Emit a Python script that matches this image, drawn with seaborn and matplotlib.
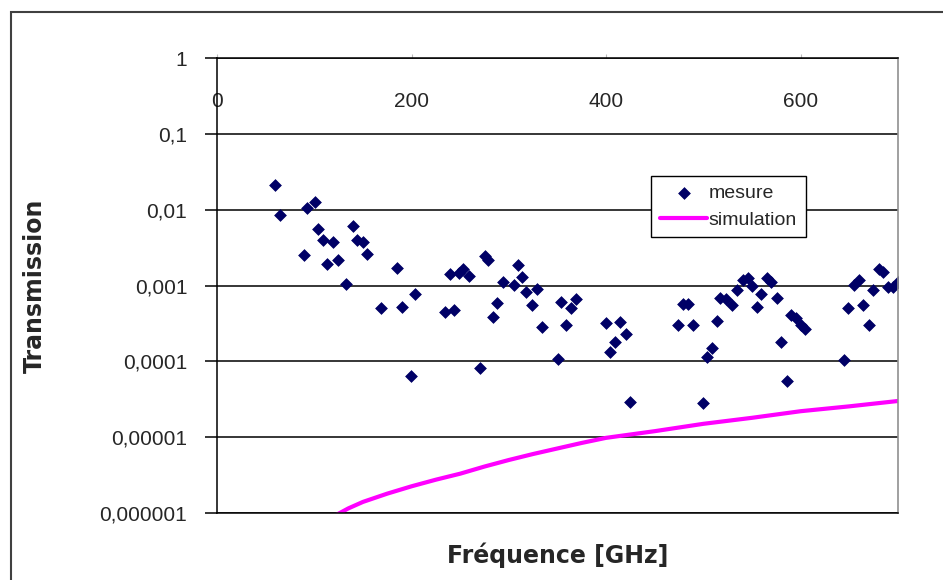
import pandas as pd
import seaborn as sns
import matplotlib.pyplot as plt
from matplotlib.patches import Rectangle

# measured points (frequency in GHz, transmission)
mesure_freq = [60, 65, 89, 93, 101, 104, 109, 119, 113, 124, 133, 140, 144, 150, 154,
               185, 169, 190, 204, 199, 239, 249, 253, 259, 234, 244, 275, 279, 270,
               288, 284, 294, 309, 305, 314, 318, 329, 324, 334, 354, 364, 369, 359,
               350, 400, 414, 409, 404, 420, 425, 474, 489, 479, 484, 514, 509, 504,
               500, 517, 523, 529, 534, 541, 546, 550, 559, 555, 565, 569, 576, 580,
               586, 590, 595, 600, 604, 645, 649, 664, 670, 655, 660, 674, 680, 685,
               690, 695, 700]
mesure_T = [0.021, 0.0085, 0.0025, 0.0104, 0.0127, 0.0056, 0.0040, 0.0038, 0.0019,
            0.0022, 0.00104, 0.0060, 0.0040, 0.0038, 0.0026, 0.0017, 0.00051, 0.00052,
            0.00078, 0.000065, 0.00142, 0.00145, 0.00163, 0.00135, 0.00045, 0.00048,
            0.00245, 0.00217, 0.000081, 0.00058, 0.00039, 0.00111, 0.00186, 0.00102,
            0.00128, 0.00082, 0.00089, 0.00055, 0.00028, 0.0006, 0.00051, 0.00067,
            0.00030, 0.000106, 0.00032, 0.00033, 0.00018, 0.000134, 0.00023, 0.000029,
            0.00030, 0.00030, 0.00057, 0.00057, 0.00034, 0.000148, 0.000113, 0.000028,
            0.00069, 0.00066, 0.00055, 0.00087, 0.00118, 0.00124, 0.00098, 0.00077,
            0.00052, 0.00124, 0.00112, 0.00068, 0.00018, 0.000055, 0.00041, 0.00037,
            0.00030, 0.00027, 0.000104, 0.00051, 0.00055, 0.00030, 0.00101, 0.00118,
            0.00087, 0.00165, 0.00149, 0.00096, 0.00096, 0.0011]

# simulation curve
sim_freq = [123, 135, 150, 175, 200, 225, 250, 275, 300, 325, 350, 375, 400, 450,
            500, 550, 600, 650, 700]
sim_T = [9.5e-7, 1.15e-6, 1.4e-6, 1.8e-6, 2.25e-6, 2.75e-6, 3.3e-6, 4.1e-6, 5.0e-6,
         6.0e-6, 7.1e-6, 8.4e-6, 9.8e-6, 1.2e-5, 1.5e-5, 1.8e-5, 2.2e-5, 2.55e-5,
         3.0e-5]

x_ticks = [0, 200, 400, 600]
y_ticks = [1, 0.1, 0.01, 0.001, 0.0001, 0.00001, 0.000001]
y_tick_labels = ["1", "0,1", "0,01", "0,001", "0,0001", "0,00001", "0,000001"]

mes = pd.DataFrame({"freq": mesure_freq, "T": mesure_T})
sim = pd.DataFrame({"freq": sim_freq, "T": sim_T})

sns.set_style("white")
plt.rcParams["font.family"] = ["Liberation Sans", "DejaVu Sans"]

fig = plt.figure(figsize=(9.43, 5.8), dpi=100)
ax = fig.add_axes([217/943, 1-513/580, 681/943, 455/580])

sns.scatterplot(x="freq", y="T", data=mes, ax=ax, marker="D", s=36,
                color="#000066", edgecolor="#000066", linewidth=0.5, label="mesure")
sns.lineplot(x="freq", y="T", data=sim, ax=ax, color="#ff00ff", linewidth=3,
             label="simulation")

ax.set_yscale("log")
ax.set_ylim(1e-6, 1)
ax.set_xlim(0, 700)
ax.set_yticks(y_ticks)
ax.set_yticklabels(y_tick_labels)
ax.minorticks_off()
ax.yaxis.grid(True, color="black", linewidth=1.1)
ax.tick_params(axis="y", direction="out", length=8.5, width=1.1, color="black",
               pad=13, labelsize=15, left=True)

# x axis sits on the top line, labels drawn just below it
ax.set_xticks(x_ticks)
ax.xaxis.set_ticks_position("top")
ax.tick_params(axis="x", direction="out", length=3, width=0.8, color="#bbbbbb",
               pad=-41, labelsize=15, top=True, labeltop=True, bottom=False,
               labelbottom=False)

for side in ["left", "top", "bottom"]:
    ax.spines[side].set_color("black")
    ax.spines[side].set_linewidth(1.1)
ax.spines["right"].set_color("#909090")
ax.spines["right"].set_linewidth(1.2)

ax.set_xlabel("Fréquence [GHz]", fontsize=17, fontweight="bold", family="DejaVu Sans")
ax.set_ylabel("Transmission", fontsize=17, fontweight="bold", family="DejaVu Sans")
ax.xaxis.set_label_position("bottom")
ax.xaxis.set_label_coords(0.5, -0.092)
ax.xaxis.label.set_va("center")
ax.yaxis.set_label_coords(-0.267, 0.5)
ax.yaxis.label.set_va("center")

leg = ax.legend(loc="upper left", bbox_to_anchor=(0.638, 0.741), borderaxespad=0,
                fontsize=14, frameon=True, fancybox=False, edgecolor="black",
                framealpha=1, handlelength=2.4, handletextpad=0.1,
                borderpad=0.45, labelspacing=0.45)
leg.get_frame().set_linewidth(1.0)

# outer chart border
fig.patches.append(Rectangle((11/943, -0.1), 1.2, 1.1 - 12/580,
                             transform=fig.transFigure, fill=False,
                             edgecolor="#404040", linewidth=1.5))

plt.savefig("out.png", dpi=100)
